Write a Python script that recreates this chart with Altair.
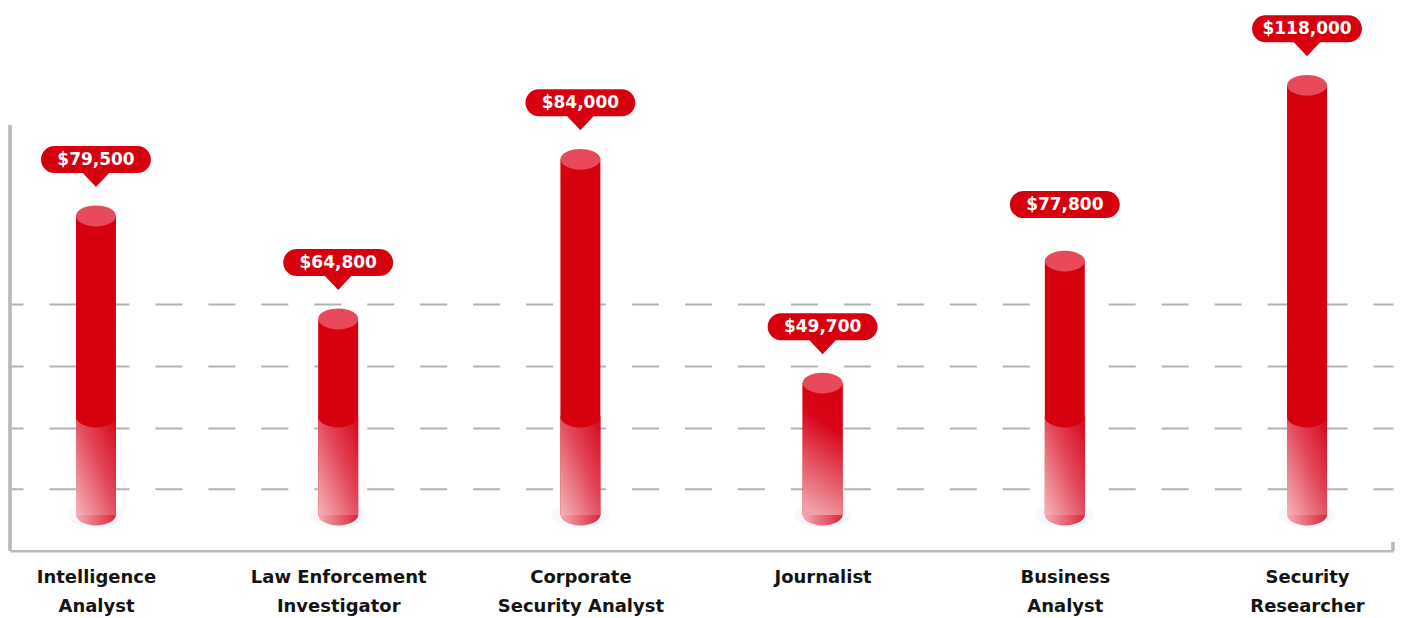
import altair as alt
import pandas as pd

# ---- data ----
jobs = ["Intelligence Analyst", "Law Enforcement Investigator", "Corporate Security Analyst",
        "Journalist", "Business Analyst", "Security Researcher"]
axis_labels = ["Intelligence|Analyst", "Law Enforcement|Investigator", "Corporate|Security Analyst",
               "Journalist", "Business|Analyst", "Security|Researcher"]
salaries = [79500, 64800, 84000, 49700, 77800, 118000]
# drawn bar heights (cap centre) in gridline units
bar_top = [5.43, 3.76, 6.35, 2.72, 4.70, 7.55]
bar_base = 0.58     # centre of the bottom ellipse
fade_level = 2.17   # where the pale lower section begins
grid_values = [1, 2, 3, 4]

df = pd.DataFrame({
    "job": jobs,
    "label": axis_labels,
    "salary": salaries,
    "top": bar_top,
})
df["base"] = bar_base
df["fade"] = fade_level

RED = "#d7000f"
CAP = "#e84a5c"
GRID = "#b3b3b3"
AXIS = "#b9b9b9"
FONT = "DejaVu Sans"

W, H = 1384, 543
YMAX = 8.8

x = alt.X("label:N", sort=axis_labels,
          scale=alt.Scale(type="point", padding=0.355),
          axis=alt.Axis(title=None, domain=True, domainColor=AXIS, domainWidth=2.5,
                        ticks=False, labelExpr="split(datum.label, '|')",
                        labelFont=FONT, labelFontWeight="bold", labelFontSize=18,
                        labelColor="#141414", labelLineHeight=29, labelPadding=18,
                        labelAngle=0))
yscale = alt.Scale(domain=[0, YMAX], nice=False, zero=True)

base = alt.Chart(df).encode(x=x)

ellipse = "M -1 0 A 1 0.52 0 1 0 1 0 A 1 0.52 0 1 0 -1 0 Z"
shadow_shape = "M -1 0 A 1 0.42 0 1 0 1 0 A 1 0.42 0 1 0 -1 0 Z"

bubble_ptr = ("M -0.7545 -0.2545 L -0.24 -0.2545 L 0 0 L 0.24 -0.2545 L 0.7545 -0.2545 "
              "A 0.2455 0.2455 0 0 0 0.7545 -0.7455 L -0.7545 -0.7455 "
              "A 0.2455 0.2455 0 0 0 -0.7545 -0.2545 Z")
bubble_plain = ("M -0.7545 -0.2545 L 0.7545 -0.2545 "
                "A 0.2455 0.2455 0 0 0 0.7545 -0.7455 L -0.7545 -0.7455 "
                "A 0.2455 0.2455 0 0 0 -0.7545 -0.2545 Z")

body_grad = alt.Gradient(
    gradient="linear", x1=1, y1=0, x2=0, y2=1,
    stops=[alt.GradientStop(offset=0, color="#d6061a"),
           alt.GradientStop(offset=0.45, color="#e2485a"),
           alt.GradientStop(offset=1, color="#f6b3bb")])
full_grad = alt.Gradient(
    gradient="linear", x1=0.6, y1=0, x2=0.4, y2=1,
    stops=[alt.GradientStop(offset=0, color=RED),
           alt.GradientStop(offset=0.3, color="#d8061a"),
           alt.GradientStop(offset=1, color="#f0a0aa")])
bottom_grad = alt.Gradient(
    gradient="linear", x1=0, y1=0, x2=1, y2=0,
    stops=[alt.GradientStop(offset=0, color="#f4aab3"),
           alt.GradientStop(offset=1, color="#dc2537")])

y_axis = alt.Axis(values=grid_values, grid=True, gridDash=[27, 26], gridDashOffset=14,
                  gridColor=GRID, gridWidth=2, labels=False, ticks=False,
                  domain=False, title=None)

grid = base.mark_rule(opacity=0).encode(
    y=alt.Y("base:Q", scale=yscale, axis=y_axis))

shadow = base.mark_point(shape=shadow_shape, size=58 * 58, filled=True,
                         color="#cdbcf5", opacity=0.12).encode(
    y=alt.Y("base:Q", scale=yscale))

bottom = base.mark_point(shape=ellipse, size=1600, filled=True, opacity=1,
                         fill=bottom_grad, strokeWidth=0).encode(
    y=alt.Y("base:Q", scale=yscale))

body = base.mark_bar(size=40, color=RED).encode(
    y=alt.Y("base:Q", scale=yscale), y2="top:Q")

lower = base.transform_filter("datum.top > 3").mark_bar(size=40, fill=body_grad).encode(
    y=alt.Y("base:Q", scale=yscale), y2="fade:Q")

lower_full = base.transform_filter("datum.top <= 3").mark_bar(size=40, fill=full_grad).encode(
    y=alt.Y("base:Q", scale=yscale), y2="top:Q")

seam = base.transform_filter("datum.top > 3").mark_point(
    shape=ellipse, size=1600, filled=True, color=RED, opacity=1).encode(
    y=alt.Y("fade:Q", scale=yscale))

cap = base.mark_point(shape=ellipse, size=1600, filled=True, color=CAP, opacity=1).encode(
    y=alt.Y("top:Q", scale=yscale))

bubble1 = base.transform_filter("datum.job != 'Business Analyst'").mark_point(
    shape=bubble_ptr, size=110 * 110, filled=True, color=RED, opacity=1, yOffset=-29).encode(
    y=alt.Y("top:Q", scale=yscale))
bubble2 = base.transform_filter("datum.job == 'Business Analyst'").mark_point(
    shape=bubble_plain, size=110 * 110, filled=True, color=RED, opacity=1, yOffset=-29).encode(
    y=alt.Y("top:Q", scale=yscale))

text = base.transform_calculate(txt="'$' + format(datum.salary, ',')").mark_text(
    color="white", font=FONT, fontWeight="bold", fontSize=17, baseline="middle",
    yOffset=-56).encode(y=alt.Y("top:Q", scale=yscale), text="txt:N")

left_line = alt.Chart(df).mark_rule(color=AXIS, strokeWidth=2.5).encode(
    x=alt.value(0), y=alt.datum(6.9, scale=yscale), y2=alt.datum(0))
right_tick = alt.Chart(df).mark_rule(color=AXIS, strokeWidth=2.5).encode(
    x=alt.value(W), y=alt.datum(0, scale=yscale), y2=alt.datum(0.14))

chart = alt.layer(grid, left_line, right_tick, shadow, bottom, body, lower, lower_full,
                  seam, cap, bubble1, bubble2, text).properties(
    width=W, height=H, padding=0, background="white"
).configure_view(stroke=None)

chart.save("out.html", embed_options={"renderer": "svg", "actions": False})
